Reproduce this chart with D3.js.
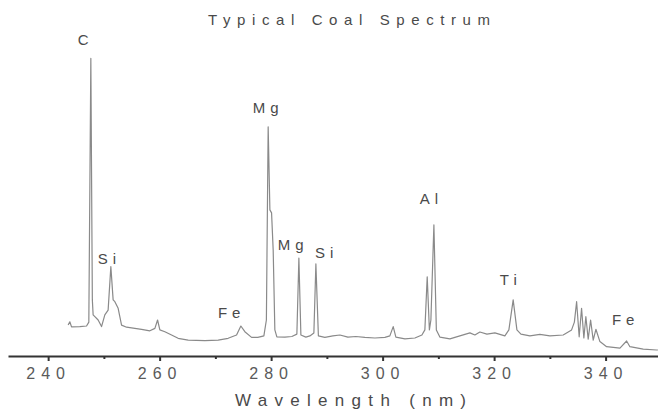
<!DOCTYPE html>
<html>
<head>
<meta charset="utf-8">
<script src="https://cdn.jsdelivr.net/npm/d3@7"></script>
<style>
  body { margin: 0; background: #fff; }
  text { font-family: "Liberation Sans", Arial, sans-serif; fill: #4a4a4a; }
</style>
</head>
<body>
<svg id="chart"></svg>
<script>
// spectrum (wavelength in nm, intensity in arbitrary units)
const wavelength = [243.59, 243.89, 244.20, 245.69, 246.89, 247.30, 247.66, 247.93, 248.07, 248.38,
  248.97, 249.58, 250.17, 250.76, 251.25, 251.66, 251.97, 252.56, 253.17, 254.07,
  255.56, 256.76, 258.25, 259.15, 259.63, 260.04, 260.94, 262.14, 263.32, 265.12,
  268.11, 270.50, 272.29, 273.80, 274.57, 275.29, 276.49, 277.62, 278.70, 279.15,
  279.47, 279.78, 280.08, 280.37, 280.67, 281.03, 282.47, 283.72, 284.62, 284.98,
  285.34, 286.23, 286.95, 287.67, 288.03, 288.48, 289.64, 291.08, 292.33, 293.77,
  295.20, 296.82, 298.62, 300.41, 301.30, 301.90, 302.38, 304.00, 305.79, 307.05,
  307.58, 308.00, 308.39, 308.66, 309.20, 309.64, 310.27, 312.07, 313.86, 315.66,
  316.55, 317.45, 318.71, 320.14, 321.93, 322.65, 323.42, 324.09, 324.81, 326.42,
  328.21, 330.01, 332.39, 333.90, 334.40, 334.80, 335.26, 335.69, 336.10, 336.46,
  336.88, 337.31, 337.78, 338.26, 338.98, 340.18, 342.57, 343.77, 344.36, 346.75,
  349.15, 349.38];
const intensity = [10.3, 11.4, 9.7, 9.8, 10.0, 11.3, 99.2, 18.7, 13.7, 13.1,
  12.0, 9.8, 13.7, 15.3, 29.8, 18.7, 18.1, 15.9, 10.3, 9.6,
  9.2, 8.9, 8.4, 9.2, 12.0, 8.7, 8.1, 7.0, 5.9, 5.3,
  5.1, 5.3, 5.9, 7.0, 10.0, 8.1, 6.2, 6.2, 6.7, 12.0,
  76.4, 48.7, 47.7, 35.3, 8.7, 6.4, 6.3, 6.5, 7.3, 32.6,
  7.0, 6.3, 6.7, 7.7, 30.7, 6.7, 6.2, 6.7, 7.0, 6.3,
  6.5, 6.2, 6.0, 6.2, 6.7, 9.8, 6.3, 5.7, 6.0, 7.0,
  8.7, 26.4, 8.7, 12.0, 43.7, 8.7, 6.3, 5.7, 6.7, 7.7,
  7.0, 8.0, 7.3, 7.7, 6.7, 8.7, 18.7, 8.7, 7.3, 6.7,
  7.2, 6.7, 7.0, 8.7, 11.3, 18.1, 6.4, 15.9, 6.0, 13.1,
  5.6, 12.0, 5.3, 8.9, 4.8, 3.1, 2.6, 5.0, 3.1, 2.3,
  2.0, 2.0];

// element labels, anchored at left edge / baseline
const labelNames = ["C", "Si", "Fe", "Mg", "Mg", "Si", "Al", "Ti", "Fe"];
const labelNm = [245.33, 248.92, 270.45, 276.72, 281.2, 287.85, 306.68, 321.03, 341.13];
const labelLevel = [103.7, 30.7, 12.7, 81.0, 35.3, 32.7, 50.7, 23.7, 10.3];

const majorTicks = [240, 260, 280, 300, 320, 340];
const minorTicks = [250, 270, 290, 310, 330];

const width = 658, height = 415;

const svg = d3.select("#chart")
    .attr("width", width)
    .attr("height", height);

const x = d3.scaleLinear().domain([232.8, 349.4]).range([8, 658]);
const y = d3.scaleLinear().domain([0, 100]).range([356, 56]);

const points = wavelength.map((w, i) => [w, intensity[i]]);

// spectrum trace
svg.append("path")
    .datum(points)
    .attr("fill", "none")
    .attr("stroke", "#8a8a8a")
    .attr("stroke-width", 1.2)
    .attr("stroke-linejoin", "round")
    .attr("d", d3.line().x(d => x(d[0])).y(d => y(d[1])));

// x axis: major ticks with labels, minor ticks without
const axisY = y(0);
svg.append("g")
    .attr("transform", `translate(0,${axisY})`)
    .call(d3.axisBottom(x).tickValues(minorTicks).tickSize(3).tickFormat(""))
    .call(g => g.select(".domain").remove())
    .selectAll("line").attr("stroke", "#333").attr("stroke-width", 2);

const major = svg.append("g")
    .attr("transform", `translate(0,${axisY})`)
    .call(d3.axisBottom(x).tickValues(majorTicks).tickSize(5).tickSizeOuter(0).tickFormat(d3.format("d")));
major.select(".domain").attr("stroke", "#333").attr("stroke-width", 2.2);
major.selectAll(".tick line").attr("stroke", "#333").attr("stroke-width", 2);
major.selectAll(".tick text")
    .attr("y", 12)
    .attr("dy", "0.71em")
    .style("font-size", "16px")
    .style("letter-spacing", "6px")
    .style("fill", "#5a5a5a");

// title and axis label
svg.append("text")
    .attr("x", 208)
    .attr("y", 25)
    .style("font-size", "15px")
    .style("letter-spacing", "6.6px")
    .text("Typical Coal Spectrum");

svg.append("text")
    .attr("x", 235)
    .attr("y", 406)
    .style("font-size", "17px")
    .style("letter-spacing", "7.3px")
    .text("Wavelength (nm)");

// element labels
svg.selectAll(".elem")
    .data(labelNames)
    .join("text")
    .attr("class", "elem")
    .attr("x", (d, i) => x(labelNm[i]))
    .attr("y", (d, i) => y(labelLevel[i]))
    .style("font-size", "15px")
    .style("letter-spacing", "5px")
    .text(d => d);
</script>
</body>
</html>
